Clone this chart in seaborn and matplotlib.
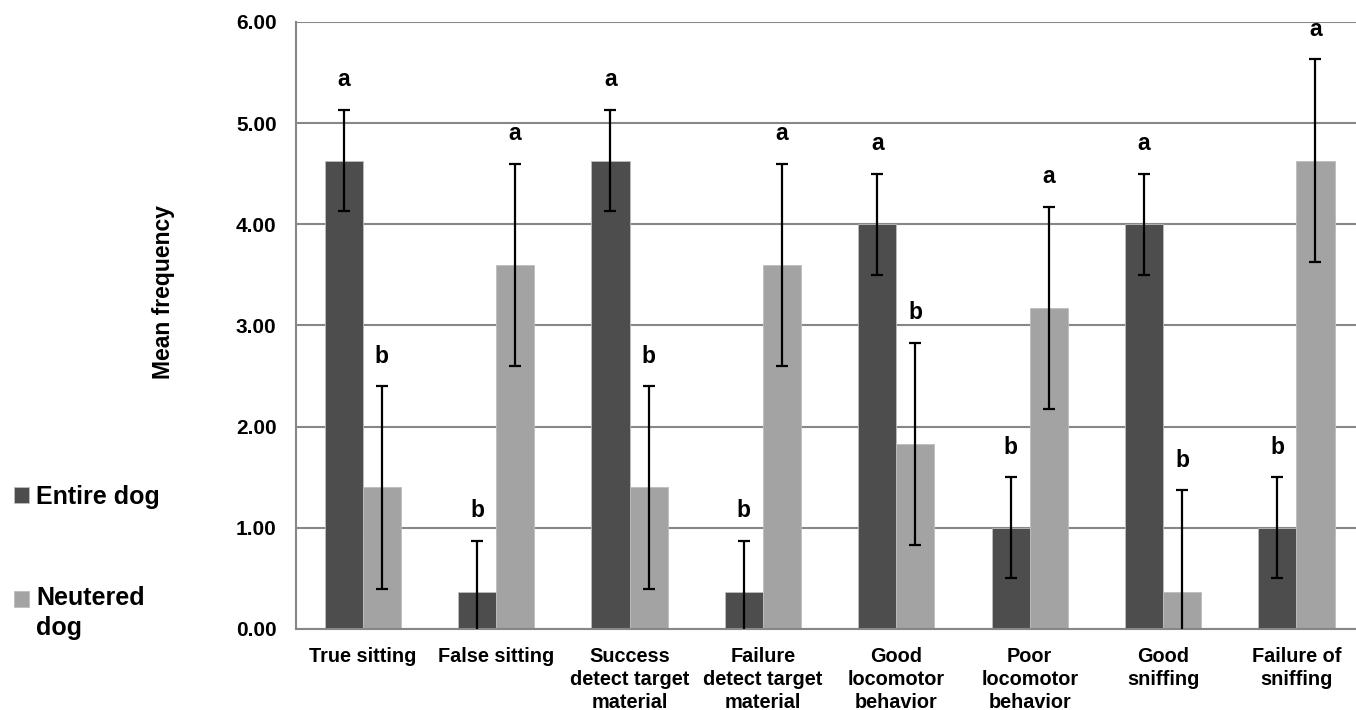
import matplotlib
matplotlib.use("Agg")
import numpy as np
import pandas as pd
import matplotlib.pyplot as plt
import seaborn as sns
from matplotlib.ticker import FormatStrFormatter, FixedLocator

categories = [
    "True sitting",
    "False sitting",
    "Success\ndetect target\nmaterial",
    "Failure\ndetect target\nmaterial",
    "Good\nlocomotor\nbehavior",
    "Poor\nlocomotor\nbehavior",
    "Good\nsniffing",
    "Failure of\nsniffing",
]
groups = ["Entire dog", "Neutered dog"]

entire_mean = [4.63, 0.37, 4.63, 0.37, 4.00, 1.00, 4.00, 1.00]
neutered_mean = [1.40, 3.60, 1.40, 3.60, 1.83, 3.17, 0.37, 4.63]
entire_err = [0.50, 0.50, 0.50, 0.50, 0.50, 0.50, 0.50, 0.50]
neutered_err = [1.00, 1.00, 1.00, 1.00, 1.00, 1.00, 1.00, 1.00]
entire_letters = ["a", "b", "a", "b", "a", "b", "a", "b"]
neutered_letters = ["b", "a", "b", "a", "b", "a", "b", "a"]

colors = ["#4d4d4d", "#a3a3a3"]
grid_col = "#878787"

df = pd.DataFrame({
    "Behavior": categories * 2,
    "Group": [groups[0]] * len(categories) + [groups[1]] * len(categories),
    "Mean": entire_mean + neutered_mean,
})

sns.set_theme(style="white")
plt.rcParams["font.family"] = ["Liberation Sans", "DejaVu Sans"]
plt.rcParams["font.weight"] = "bold"
plt.rcParams["text.color"] = "black"
plt.rcParams["axes.labelcolor"] = "black"

fig = plt.figure(figsize=(13.56, 7.10), dpi=100)
ax = fig.add_axes([0.2183, 0.1141, 0.787, 0.855])

sns.barplot(data=df, x="Behavior", y="Mean", hue="Group", order=categories,
            hue_order=groups, palette=colors, width=0.57, errorbar=None,
            edgecolor="#bdbdbd", linewidth=0.6, ax=ax)

handles, labels = ax.get_legend_handles_labels()
ax.get_legend().remove()

errs = [entire_err, neutered_err]
letters = [entire_letters, neutered_letters]
for cont, err, lets in zip(ax.containers, errs, letters):
    xs = [b.get_x() + b.get_width() / 2 for b in cont]
    hs = [b.get_height() for b in cont]
    ax.errorbar(xs, hs, yerr=err, fmt="none", ecolor="black", elinewidth=1.6,
                capsize=4, capthick=1.6, zorder=4)
    for x, h, e, t in zip(xs, hs, err, lets):
        ax.annotate(t, xy=(x, h + e), xytext=(0, 17), textcoords="offset points",
                    ha="center", va="baseline", fontsize=16.5, fontweight="bold",
                    color="black")

ax.set_ylim(0, 6)
ax.set_xlim(-0.5, len(categories) - 0.5)
ax.set_yticks(np.arange(0, 7, 1))
ax.yaxis.set_major_formatter(FormatStrFormatter("%.2f"))
ax.tick_params(axis="y", length=0, pad=14, labelsize=15, labelcolor="black")
ax.set_xticks(range(len(categories)))
ax.set_xticklabels(categories, fontsize=14.3, fontweight="bold", linespacing=1.27)
ax.tick_params(axis="x", which="major", length=0, pad=13, labelcolor="black")
ax.xaxis.set_minor_locator(FixedLocator(np.arange(-0.5, len(categories), 1)))
ax.tick_params(axis="x", which="minor", length=5, width=1.5, color=grid_col,
               direction="out")

ax.set_xlabel("")
ax.set_ylabel("Mean frequency", fontsize=16.5, fontweight="bold", color="black")
ax.yaxis.set_label_coords(-0.113, 0.555)

ax.grid(axis="y", color=grid_col, linewidth=1.5)
ax.set_axisbelow(True)
for s in ["top", "right"]:
    ax.spines[s].set_visible(False)
for s in ["left", "bottom"]:
    ax.spines[s].set_color(grid_col)
    ax.spines[s].set_linewidth(1.5)

leg = fig.legend(handles, ["Entire dog", "Neutered\ndog"], loc="upper left",
                 bbox_to_anchor=(0.01, 0.317), frameon=False, borderpad=0,
                 borderaxespad=0, prop={"size": 18, "weight": "bold"},
                 labelspacing=3.1, handlelength=0.6, handleheight=0.6,
                 handletextpad=0.3, labelcolor="black")
leg.get_texts()[1].set_linespacing(1.3)
# keep the square level with the first line of the two-line label
hb = leg.legend_handles[1]
hb.set_y(hb.get_y() + 11)

fig.savefig("out.png", dpi=100)
